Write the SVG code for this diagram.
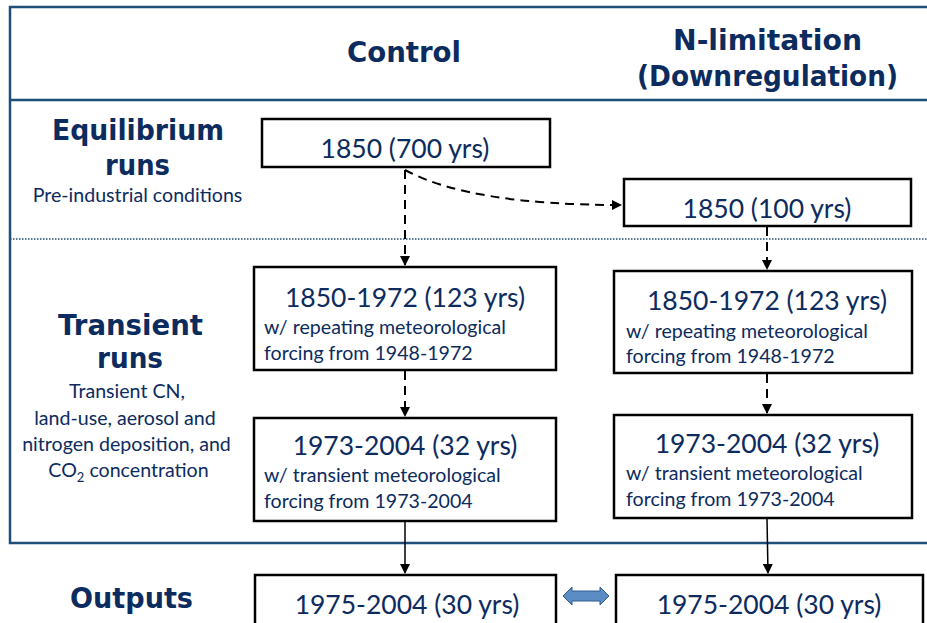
<svg xmlns="http://www.w3.org/2000/svg" width="927" height="623" viewBox="0 0 927 623">
<defs>
<marker id="ah" viewBox="0 0 10 10" refX="9" refY="5" markerWidth="10" markerHeight="10" markerUnits="userSpaceOnUse" orient="auto">
<path d="M0,0 L10,5 L0,10 z" fill="#000"/>
</marker>
</defs>
<style>
.frame{fill:none;stroke:#1f4e79;stroke-width:2.5}
.box{fill:#fff;stroke:#000;stroke-width:2.5}
.h{font-family:"DejaVu Sans","Liberation Sans",sans-serif;font-weight:bold;fill:#0c2b5e;text-anchor:middle;font-size:28px}
.sub{font-family:Lato,"Liberation Sans",sans-serif;fill:#0c2b5e;text-anchor:middle;font-size:19.6px}
.t{font-family:Lato,"Liberation Sans",sans-serif;fill:#0c2b5e;text-anchor:middle;font-size:26.5px}
.s{font-family:Lato,"Liberation Sans",sans-serif;fill:#0c2b5e;font-size:19.6px}
.dash{fill:none;stroke:#000;stroke-width:2;stroke-dasharray:9,6}
.solid{fill:none;stroke:#000;stroke-width:1.5}
</style>
<rect x="0" y="0" width="927" height="623" fill="#fff"/>
<g id="frame">
<path class="frame" d="M940,7 L10,7 L10,543 L940,543"/>
<line class="frame" x1="10" y1="100" x2="927" y2="100"/>
<line x1="10" y1="239" x2="927" y2="239" stroke="#1f4e79" stroke-width="1.5" stroke-dasharray="1.5,1.5"/>
</g>
<g id="headers">
<text class="h" x="404" y="62" textLength="114" lengthAdjust="spacingAndGlyphs">Control</text>
<text class="h" x="767.5" y="50" textLength="189" lengthAdjust="spacingAndGlyphs">N-limitation</text>
<text class="h" x="767.5" y="86" textLength="261" lengthAdjust="spacingAndGlyphs">(Downregulation)</text>
<text class="h" x="138" y="140" textLength="172" lengthAdjust="spacingAndGlyphs">Equilibrium</text>
<text class="h" x="137.5" y="175" textLength="65" lengthAdjust="spacingAndGlyphs">runs</text>
<text class="sub" x="137.5" y="202">Pre-industrial conditions</text>
<text class="h" x="130.5" y="335" textLength="145" lengthAdjust="spacingAndGlyphs">Transient</text>
<text class="h" x="130" y="368" textLength="66" lengthAdjust="spacingAndGlyphs">runs</text>
<text class="sub" x="127" y="398">Transient CN,</text>
<text class="sub" x="125" y="425">land-use, aerosol and</text>
<text class="sub" x="126.5" y="451">nitrogen deposition, and</text>
<text class="sub" x="128.5" y="477">CO<tspan font-size="13" dy="5">2</tspan><tspan dy="-5"> concentration</tspan></text>
<text class="h" x="131.5" y="608" textLength="123" lengthAdjust="spacingAndGlyphs">Outputs</text>
</g>
<g id="connectors">
<line class="dash" x1="405" y1="170" x2="405" y2="265" marker-end="url(#ah)"/>
<path class="dash" d="M405,170 Q470,205 621,205" marker-end="url(#ah)"/>
<line class="dash" x1="767" y1="227" x2="767" y2="269" marker-end="url(#ah)"/>
<line class="dash" x1="405" y1="371" x2="405" y2="416" marker-end="url(#ah)"/>
<line class="dash" x1="767" y1="374" x2="767" y2="413" marker-end="url(#ah)"/>
<line class="solid" x1="405" y1="522" x2="405" y2="573" marker-end="url(#ah)"/>
<line class="solid" x1="767" y1="519" x2="768" y2="573" marker-end="url(#ah)"/>
<path d="M563,596 L572,587 L572,591 L600,591 L600,587 L609,596 L600,605 L600,601 L572,601 L572,605 z" fill="#5b8cc4" stroke="#2f5f8f" stroke-width="1"/>
</g>
<g id="n1"><rect class="box" x="262" y="119" width="288" height="48"/><text class="t" x="405" y="158">1850 (700 yrs)</text></g>
<g id="n2"><rect class="box" x="624" y="179" width="287" height="47"/><text class="t" x="767" y="218">1850 (100 yrs)</text></g>
<g id="n3"><rect class="box" x="254" y="267" width="302" height="103"/><text class="t" x="405" y="307">1850-1972 (123 yrs)</text><text class="s" x="264" y="334">w/ repeating meteorological</text><text class="s" x="264" y="360">forcing from 1948-1972</text></g>
<g id="n4"><rect class="box" x="614" y="271" width="298" height="102"/><text class="t" x="767" y="310">1850-1972 (123 yrs)</text><text class="s" x="626" y="338">w/ repeating meteorological</text><text class="s" x="626" y="363">forcing from 1948-1972</text></g>
<g id="n5"><rect class="box" x="254" y="418" width="302" height="103"/><text class="t" x="405" y="455">1973-2004 (32 yrs)</text><text class="s" x="264" y="482">w/ transient meteorological</text><text class="s" x="264" y="508">forcing from 1973-2004</text></g>
<g id="n6"><rect class="box" x="614" y="415" width="298" height="103"/><text class="t" x="767" y="453">1973-2004 (32 yrs)</text><text class="s" x="626" y="480">w/ transient meteorological</text><text class="s" x="626" y="506">forcing from 1973-2004</text></g>
<g id="n7"><rect class="box" x="255" y="575" width="301" height="52"/><text class="t" x="407" y="614">1975-2004 (30 yrs)</text></g>
<g id="n8"><rect class="box" x="616" y="575" width="307" height="52"/><text class="t" x="769" y="614">1975-2004 (30 yrs)</text></g>
</svg>
